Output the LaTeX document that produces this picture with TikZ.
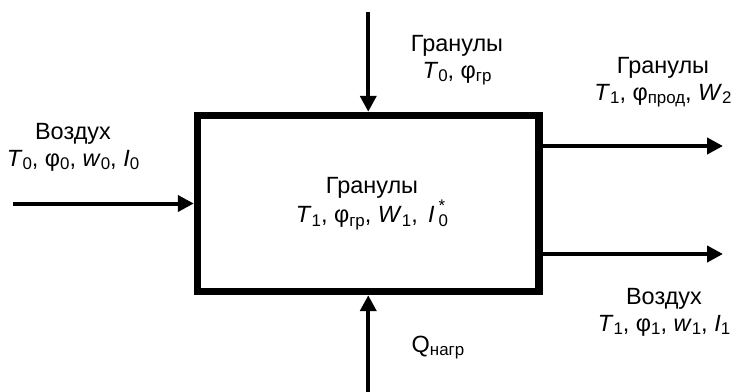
\documentclass[tikz,border=0pt]{standalone}
\usepackage{fontspec}
\setmainfont{Liberation Sans}
\usetikzlibrary{arrows.meta}
\newcommand\sbx[1]{\raisebox{-0.13em}{\scalebox{0.72}{#1}}}
\newcommand\spx[1]{\raisebox{0.5em}{\scalebox{0.72}{#1}}}
\begin{document}
\begin{tikzpicture}[x=0.75pt,y=-0.75pt,
  lbl/.style={align=center,inner sep=0pt,font=\fontsize{17.6}{20.2}\selectfont,anchor=north},
  flow/.style={line width=3pt,-{Triangle[length=12pt,width=12pt]}},
  procbox/.style={draw,line width=5.6pt,inner sep=0pt,minimum width=256.1pt,minimum height=132pt}]
\useasboundingbox (0,0) rectangle (731,392);
\node[procbox] (box) at (368.25,203.5) {};
\coordinate (inL) at (13,203.5);
\coordinate (inT) at (368.25,12);
\coordinate (inB) at (368.25,392);
\coordinate (out1) at (723,146);
\coordinate (out2) at (723,254);
\draw[flow] (inL) -- (box.west);
\draw[flow] (inT) -- (box.north);
\draw[flow] (inB) -- (box.south);
\draw[flow] (out1 -| box.east) -- (out1);
\draw[flow] (out2 -| box.east) -- (out2);
\node[lbl] (tL) at (73,123) {Воздух\\\textit{T}\sbx{0}, φ\sbx{0}, \textit{w}\sbx{0}, \textit{I}\sbx{0}};
\node[lbl] (tT) at (457,35) {Гранулы\\\textit{T}\sbx{0}, φ\sbx{гр}};
\node[lbl] (tR1) at (663,57) {Гранулы\\\textit{T}\sbx{1}, φ\sbx{прод}, \textit{W}\sbx{2}};
\node[lbl] (tC) at (372,177) {Гранулы\\\textit{T}\sbx{1}, φ\sbx{гр}, \textit{W}\sbx{1}, \,\textit{I}\,\rlap{\spx{*}}\sbx{0}};
\node[lbl] (tR2) at (664,288) {Воздух\\\textit{T}\sbx{1}, φ\sbx{1}, \textit{w}\sbx{1}, \textit{I}\sbx{1}};
\node[lbl] (tQ) at (438,336) {Q\sbx{нагр}};
\end{tikzpicture}
\end{document}
